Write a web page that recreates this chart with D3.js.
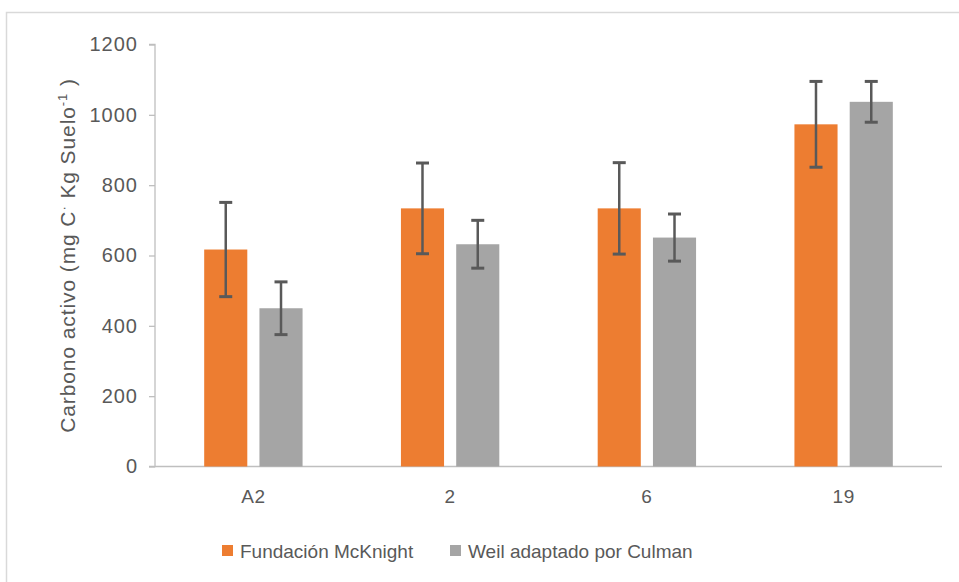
<!DOCTYPE html>
<html><head><meta charset="utf-8">
<script src="https://cdn.jsdelivr.net/npm/d3@7"></script>
<style>body{margin:0;background:#fff}svg{display:block}text{font-family:"Liberation Sans",Arial,sans-serif}</style>
</head><body>
<svg id="c" width="959" height="582"></svg>
<script>
const categories = ["A2", "2", "6", "19"];
const seriesNames = ["Fundación McKnight", "Weil adaptado por Culman"];
const mcknight = [617, 734, 734, 973];
const mcknightErr = [134, 129, 130, 122];
const weil = [450, 632, 651, 1037];
const weilErr = [75, 68, 67, 58];
const yTicks = [0, 200, 400, 600, 800, 1000, 1200];
const colors = ["#ED7D31", "#A5A5A5"];

(function () {
const svg = d3.select("#c");
// chart frame
svg.append("rect").attr("x", 6.5).attr("y", 12.5).attr("width", 1000).attr("height", 1000)
  .attr("fill", "none").attr("stroke", "#d9d9d9").attr("stroke-width", 1.5);

const pL = 155, pR = 942, pT = 44.5, pB = 466.5;
const x0 = d3.scaleBand().domain(categories).range([pL, pR]).paddingInner(0.5).paddingOuter(0.25);
const x1 = d3.scaleBand().domain(seriesNames).range([0, x0.bandwidth()]).paddingInner(0.22);
const y = d3.scaleLinear().domain([0, 1200]).range([pB, pT]);

const data = [
  {vals: mcknight, errs: mcknightErr},
  {vals: weil, errs: weilErr}
];

// y axis
const yAxis = svg.append("g").attr("transform", `translate(${pL},0)`)
  .call(d3.axisLeft(y).tickValues(yTicks).tickSize(6).tickPadding(11).tickFormat(d3.format("d")));
yAxis.selectAll("path,line").attr("stroke", "#bfbfbf").attr("stroke-width", 1.3);
yAxis.select(".domain").attr("d", `M-6,${pT}H0V${pB}H-6`);
yAxis.selectAll("text").attr("fill", "#595959").style("font-size", "20px").style("letter-spacing", "1px")
  .style("font-family", "'Liberation Sans',Arial,sans-serif");

// x axis
const xAxis = svg.append("g").attr("transform", `translate(0,${pB})`)
  .call(d3.axisBottom(x0).tickSize(0).tickPadding(23));
xAxis.select(".domain").attr("d", `M${pL},0H${pR}`).attr("stroke", "#bfbfbf").attr("stroke-width", 1.5);
xAxis.selectAll("text").attr("fill", "#595959").style("font-size", "19px").style("letter-spacing", "0.5px")
  .style("font-family", "'Liberation Sans',Arial,sans-serif");

// bars
seriesNames.forEach((s, si) => {
  const g = svg.append("g");
  g.selectAll("rect").data(categories).join("rect")
    .attr("x", c => x0(c) + x1(s))
    .attr("y", (c, i) => y(data[si].vals[i]))
    .attr("width", x1.bandwidth())
    .attr("height", (c, i) => y(0) - y(data[si].vals[i]))
    .attr("fill", colors[si]);
});
seriesNames.forEach((s, si) => {
  const eg = svg.append("g").attr("stroke", "#595959").attr("stroke-width", 2.5);
  categories.forEach((c, i) => {
    const cx = x0(c) + x1(s) + x1.bandwidth() / 2;
    const hi = y(data[si].vals[i] + data[si].errs[i]);
    const lo = y(data[si].vals[i] - data[si].errs[i]);
    eg.append("line").attr("x1", cx).attr("x2", cx).attr("y1", hi).attr("y2", lo);
    eg.append("line").attr("x1", cx - 6.5).attr("x2", cx + 6.5).attr("y1", hi).attr("y2", hi).attr("stroke-width", 3);
    eg.append("line").attr("x1", cx - 6.5).attr("x2", cx + 6.5).attr("y1", lo).attr("y2", lo).attr("stroke-width", 3);
  });
});

// y title
const yt = svg.append("text").attr("transform", `translate(75,${(pT + pB) / 2}) rotate(-90)`)
  .attr("text-anchor", "middle").attr("fill", "#595959").style("font-size", "21px").style("letter-spacing", "0.9px");
yt.append("tspan").text("Carbono activo (mg C");
yt.append("tspan").attr("dy", -7).style("font-size", "13px").text("·");
yt.append("tspan").attr("dy", 7).text(" Kg Suelo");
yt.append("tspan").attr("dy", -8).style("font-size", "13px").text("-1");
yt.append("tspan").attr("dy", 8).text(" )");

// legend
const legendX = [222, 450];
seriesNames.forEach((s, si) => {
  svg.append("rect").attr("x", legendX[si]).attr("y", 545).attr("width", 11).attr("height", 11).attr("fill", colors[si]);
  svg.append("text").attr("x", legendX[si] + 18).attr("y", 558).attr("fill", "#595959")
    .style("font-size", "19px").text(s);
});
})();
</script>
</body></html>
